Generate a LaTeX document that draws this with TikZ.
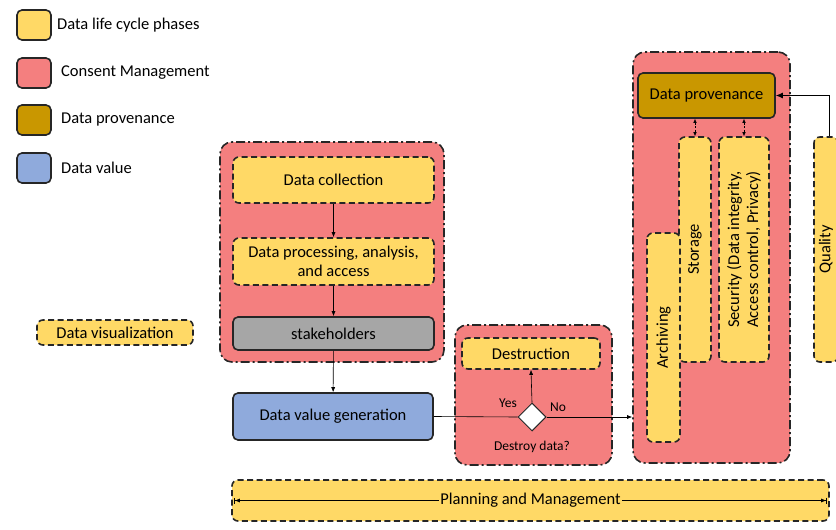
\documentclass[tikz,border=0pt]{standalone}
\usepackage{fontspec}
\setmainfont{Carlito}
\usetikzlibrary{arrows.meta,shapes.geometric}
\definecolor{phaseyellow}{HTML}{FFD966}
\definecolor{consentpink}{HTML}{F47F7F}
\definecolor{provbrown}{HTML}{C99700}
\definecolor{valueblue}{HTML}{8FAADC}
\definecolor{holdergray}{HTML}{A6A6A6}
\tikzset{
  box/.style = {align=center, inner sep=0pt, text centered, font=\fontsize{16.5}{19}\selectfont, line width=1.6pt, draw=black!85},
  phase/.style = {box, fill=phaseyellow, dash pattern=on 6pt off 3.5pt, rounded corners=6pt},
  consent/.style = {box, fill=consentpink, dash pattern=on 9pt off 3pt on 2pt off 3pt, rounded corners=12pt},
  solidbox/.style = {box, rounded corners=5pt},
  legendbox/.style = {solidbox, minimum width=34pt, minimum height=30pt},
  legendtext/.style = {anchor=west, inner sep=0pt, font=\fontsize{16.5}{19}\selectfont},
  smalltext/.style = {inner sep=0pt, font=\fontsize{13.5}{16}\selectfont},
  flow/.style = {-{Latex[length=5pt,width=4pt]}, line width=0.6pt},
  twoway/.style = {{Latex[length=4pt,width=3.5pt]}-{Latex[length=4pt,width=3.5pt]}, line width=0.6pt, dash pattern=on 2pt off 1.5pt},
}

\begin{document}
\begin{tikzpicture}[x=1pt, y=-1pt]
\clip (0,0) rectangle (836,530);

% legend
\node [legendbox, fill=phaseyellow] (L1) at (34,25) {};
\node [legendbox, fill=consentpink] (L2) at (34,73) {};
\node [legendbox, fill=provbrown] (L3) at (34,120) {};
\node [legendbox, fill=valueblue] (L4) at (34,168) {};
\node [legendtext] (T1) at (57,25) {Data life cycle phases};
\node [legendtext] (T2) at (61,73) {Consent Management};
\node [legendtext] (T3) at (61,120) {Data provenance};
\node [legendtext] (T4) at (61,168) {Data value};

\node [phase, minimum width=156pt, minimum height=25pt] (vis) at (115,332.5) {Data visualization};

% consent groups
\node [consent, minimum width=224pt, minimum height=220pt] (G1) at (332,252) {};
\node [consent, minimum width=157pt, minimum height=140pt] (G2) at (533.5,395) {};
\node [consent, minimum width=157pt, minimum height=411pt] (G3) at (711.5,257.5) {};

% left column
\node [phase, minimum width=201pt, minimum height=46pt] (coll) at (333.5,180) {Data collection};
\node [phase, minimum width=201pt, minimum height=47pt] (proc) at (333.5,261.5) {Data processing, analysis,\\and access};
\node [solidbox, fill=holdergray, minimum width=201pt, minimum height=33pt] (hold) at (333.5,333.5) {stakeholders};
\node [solidbox, fill=valueblue, minimum width=200pt, minimum height=47pt] (gen) at (333,416.5) {Data value generation};

% destruction
\node [phase, minimum width=138pt, minimum height=31pt] (destr) at (531,353.5) {Destruction};
\node [diamond, draw=black!85, fill=white, line width=1pt, minimum size=28pt, inner sep=0pt] (dec) at (532,417) {};
\node [smalltext] (yes) at (508,403) {Yes};
\node [smalltext] (no) at (558,407) {No};
\node [smalltext] (ask) at (532,447) {Destroy data?};

% right group
\node [solidbox, fill=provbrown, minimum width=137pt, minimum height=45pt] (prov) at (706.5,95.5) {Data provenance};
\node [phase, minimum width=225pt, minimum height=32pt, rotate=90] (stor) at (695,249.5) {Storage};
\node [phase, minimum width=225pt, minimum height=50pt, rotate=90] (sec) at (744,249.5) {Security (Data integrity,\\Access control, Privacy)};
\node [phase, minimum width=209pt, minimum height=33pt, rotate=90] (arch) at (663.5,337.5) {Archiving};
\node [phase, minimum width=225pt, minimum height=24pt, rotate=90] (qual) at (826,249.5) {Quality};

\node [phase, minimum width=597pt, minimum height=41pt] (plan) at (530.5,500.5) {};

% connectors
\draw [flow] (coll) -- (proc);
\draw [flow] (proc) -- (hold);
\draw [flow] (hold) -- (gen);
\draw [line width=0.6pt] (gen.east) -- (dec.west);
\draw [flow] (dec.east) -- (G3.west |- dec.east);
\draw [flow] (dec.north) -- (destr.south);
\draw [twoway] (prov.south -| stor.east) -- (stor.east);
\draw [twoway] (prov.south -| sec.east) -- (sec.east);
\draw [-{Latex[length=7pt,width=6pt]}, line width=1pt] ([xshift=3pt]qual.east) |- (prov.east);
\draw [{Bar[width=6pt]Latex[length=5pt,width=4pt]}-{Latex[length=5pt,width=4pt]Bar[width=6pt]}, line width=0.6pt]
  ([xshift=3pt]plan.west) -- node [fill=phaseyellow, inner sep=1pt, font=\fontsize{16.5}{19}\selectfont] (plantext) {Planning and Management} ([xshift=-3pt]plan.east);
\end{tikzpicture}
\end{document}
